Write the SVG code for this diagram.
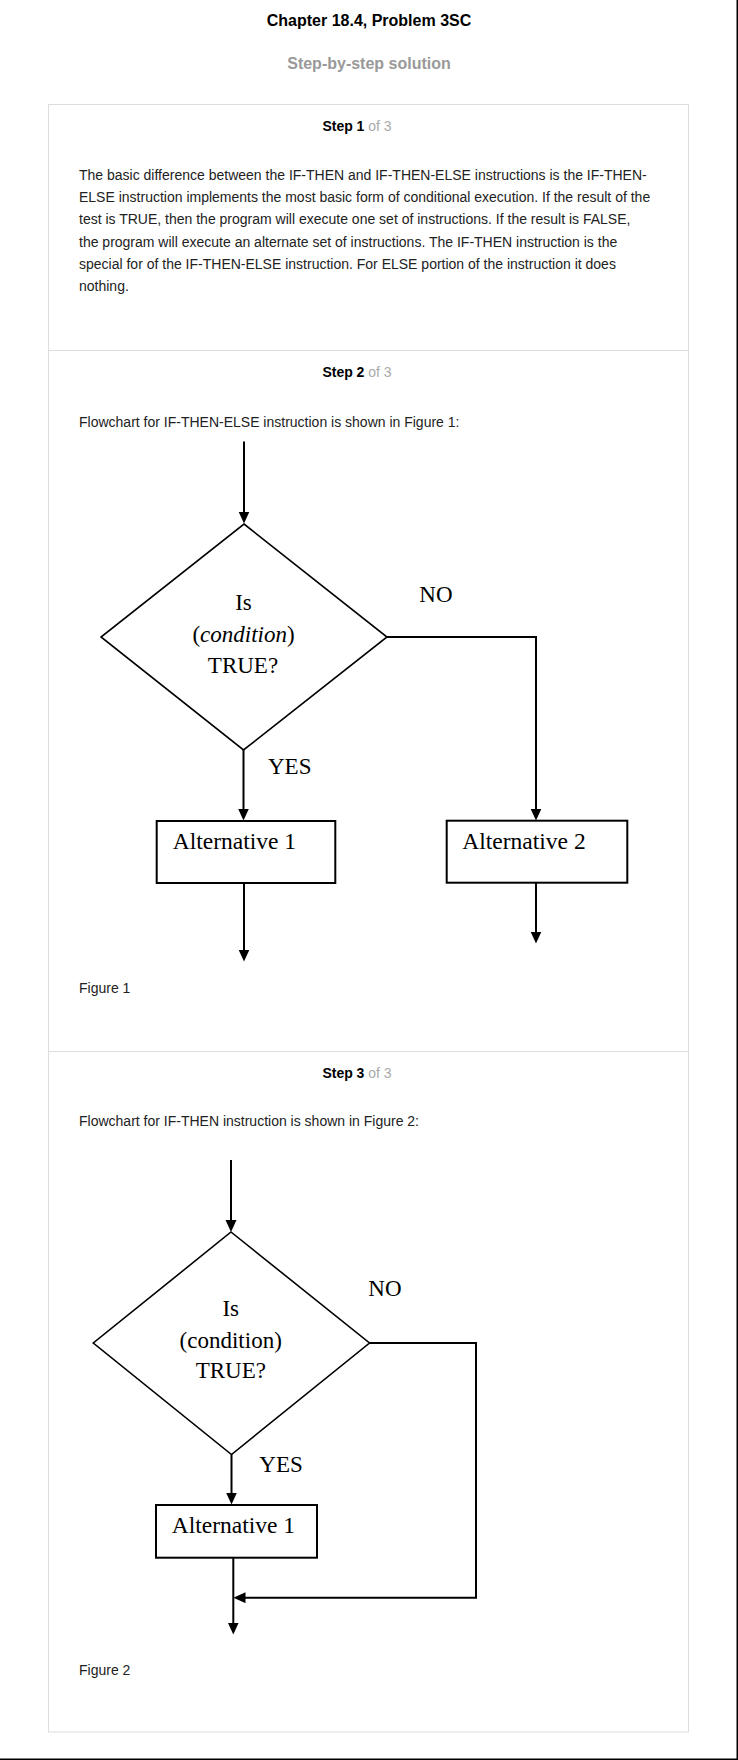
<svg xmlns="http://www.w3.org/2000/svg" width="738" height="1760" viewBox="0 0 738 1760">
<style>
.title{font-family:"Liberation Sans",Arial,sans-serif;font-size:16px;font-weight:bold;text-anchor:middle}
.sub{fill:#999}
.step{font-family:"Liberation Sans",Arial,sans-serif;font-size:14px;fill:#000}
.stepb{font-weight:bold}
.of{fill:#aaa}
.body{font-family:"Liberation Sans",Arial,sans-serif;font-size:14px;fill:#222}
.fc{font-family:"Liberation Serif","Times New Roman",serif;font-size:23px;fill:#000}
.mid{text-anchor:middle}
.alt{font-size:23.5px}
.shape{fill:#fff;stroke:#000;stroke-width:1.6}
.box{fill:#fff;stroke:#000;stroke-width:2}
.conn{fill:none;stroke:#000;stroke-width:2}
.arr{marker-end:url(#ah)}
.frame{fill:none;stroke:#ddd;stroke-width:1}
</style>
<defs>
<marker id="ah" markerUnits="userSpaceOnUse" markerWidth="13" markerHeight="12" refX="9" refY="5.5" orient="auto">
<path d="M0,0 L12,5.5 L0,11 Z" fill="#000"/>
</marker>
</defs>
<rect x="0" y="0" width="738" height="1760" fill="#fff"/>
<line x1="737.25" y1="0" x2="737.25" y2="1760" stroke="#000" stroke-width="1.5"/>
<line x1="0" y1="1759.25" x2="738" y2="1759.25" stroke="#000" stroke-width="1.5"/>

<text class="title" x="369" y="26">Chapter 18.4, Problem 3SC</text>
<text class="title sub" x="369" y="68.5">Step-by-step solution</text>

<rect class="frame" x="48.5" y="104.5" width="640" height="1627.5"/>
<line class="frame" x1="48.5" y1="350.5" x2="688.5" y2="350.5"/>
<line class="frame" x1="48.5" y1="1051.5" x2="688.5" y2="1051.5"/>

<text class="step" x="322.4" y="130.5"><tspan class="stepb">Step 1</tspan><tspan class="of"> of 3</tspan></text>
<text class="body" x="79" y="180">The basic difference between the IF-THEN and IF-THEN-ELSE instructions is the IF-THEN-</text>
<text class="body" x="79" y="202.2">ELSE instruction implements the most basic form of conditional execution. If the result of the</text>
<text class="body" x="79" y="224.4">test is TRUE, then the program will execute one set of instructions. If the result is FALSE,</text>
<text class="body" x="79" y="246.6">the program will execute an alternate set of instructions. The IF-THEN instruction is the</text>
<text class="body" x="79" y="268.8">special for of the IF-THEN-ELSE instruction. For ELSE portion of the instruction it does</text>
<text class="body" x="79" y="291">nothing.</text>

<text class="step" x="322.4" y="376.5"><tspan class="stepb">Step 2</tspan><tspan class="of"> of 3</tspan></text>
<text class="body" x="79" y="427">Flowchart for IF-THEN-ELSE instruction is shown in Figure 1:</text>
<text class="body" x="79" y="993">Figure 1</text>

<text class="step" x="322.4" y="1077.5"><tspan class="stepb">Step 3</tspan><tspan class="of"> of 3</tspan></text>
<text class="body" x="79" y="1126">Flowchart for IF-THEN instruction is shown in Figure 2:</text>
<text class="body" x="79" y="1675">Figure 2</text>

<g id="connectors">
<path class="conn arr" d="M244,441.5 V520.5"/>
<path class="conn arr" d="M243.5,750 V817.5"/>
<path class="conn arr" d="M244,883 V958.5"/>
<path class="conn arr" d="M387,637 H536 V817.5"/>
<path class="conn arr" d="M536,883 V940.5"/>
<path class="conn arr" d="M231,1160 V1229"/>
<path class="conn arr" d="M231.5,1454.5 V1501.5"/>
<path class="conn arr" d="M233.3,1557.7 V1631.5"/>
<path class="conn arr" d="M369.5,1343 H476 V1597.7 H236.5"/>
<text class="fc" x="268" y="774">YES</text>
<text class="fc" x="419.3" y="601.7">NO</text>
<text class="fc" x="259.3" y="1472.3">YES</text>
<text class="fc" x="368.3" y="1295.7">NO</text>
</g>

<g id="fig1-decision">
<polygon class="shape" points="244,524 387,637 243.5,750 101,637"/>
<text class="fc mid" x="243.5" y="610">Is</text>
<text class="fc mid" x="243.5" y="641.7">(<tspan font-style="italic">condition</tspan>)</text>
<text class="fc mid" x="243" y="672.7">TRUE?</text>
</g>

<g id="fig1-alt1">
<rect class="box" x="156.7" y="821" width="178.6" height="62"/>
<text class="fc alt" x="172.7" y="849.3">Alternative 1</text>
</g>

<g id="fig1-alt2">
<rect class="box" x="446.7" y="820.7" width="180.6" height="62"/>
<text class="fc alt" x="462.3" y="849.3">Alternative 2</text>
</g>

<g id="fig2-decision">
<polygon class="shape" points="231,1232 369.5,1343 231.5,1454.5 93.3,1343"/>
<text class="fc mid" x="230.7" y="1315.7">Is</text>
<text class="fc mid" x="230.7" y="1348.3">(condition)</text>
<text class="fc mid" x="230.8" y="1378.3">TRUE?</text>
</g>

<g id="fig2-alt1">
<rect class="box" x="156" y="1505" width="161" height="52.7"/>
<text class="fc alt" x="171.7" y="1533.3">Alternative 1</text>
</g>
</svg>
